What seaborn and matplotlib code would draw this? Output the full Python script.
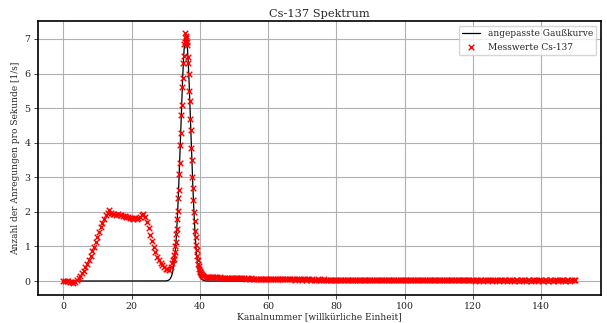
import numpy as np
import pandas as pd
import matplotlib
matplotlib.use("Agg")
import matplotlib.pyplot as plt
import seaborn as sns

# Messwerte: Compton-Kontinuum (Schrittweite 0.5 Kanäle)
hump_start, hump_step = 0.0, 0.5
hump_counts = [
    0.00, 0.01, -0.01, 0.00, -0.03, -0.04, -0.05, -0.03, 0.02, 0.08,
    0.14, 0.22, 0.30, 0.40, 0.50, 0.62, 0.72, 0.86, 0.98, 1.12,
    1.27, 1.42, 1.55, 1.69, 1.80, 1.90, 1.96, 2.05, 1.97, 1.95,
    1.94, 1.92, 1.93, 1.90, 1.91, 1.88, 1.89, 1.86, 1.85, 1.83,
    1.82, 1.80, 1.81, 1.79, 1.82, 1.85, 1.90, 1.93, 1.86, 1.72,
    1.52, 1.34, 1.15, 0.98, 0.83, 0.70, 0.60, 0.52, 0.45, 0.40,
    0.36, 0.34, 0.33, 0.42,
]

# Messwerte: Photopeak (Schrittweite 0.15 Kanäle)
peak_start, peak_step = 32.0, 0.15
peak_counts = [
    0.52, 0.60, 0.65, 0.76, 0.84, 1.00, 1.12, 1.35, 1.50, 1.80,
    2.02, 2.40, 2.62, 3.10, 3.42, 3.93, 4.27, 4.80, 5.10, 5.62,
    5.88, 6.32, 6.50, 6.85, 6.90, 7.16, 7.02, 7.10, 6.92, 6.84,
    6.48, 6.30, 5.98, 5.50, 5.20, 4.70, 4.36, 3.84, 3.50, 3.00,
    2.70, 2.33, 2.00, 1.75, 1.46, 1.27, 1.03, 0.90, 0.72, 0.62,
    0.50, 0.44, 0.36, 0.30, 0.26, 0.22, 0.20, 0.18, 0.16, 0.15,
    0.14,
]

# Messwerte: Ausläufer (Schrittweite 0.5 Kanäle)
tail_start, tail_step = 41.5, 0.5
tail_counts = [
    0.13, 0.13, 0.12, 0.12, 0.11, 0.12, 0.11, 0.11, 0.10, 0.11, 0.10, 0.10, 0.09, 0.10, 0.09, 0.09, 0.09, 0.08, 0.09, 0.08,
    0.08, 0.08, 0.09, 0.08, 0.07, 0.08, 0.07, 0.08, 0.07, 0.07, 0.07, 0.06, 0.07, 0.07, 0.06, 0.07, 0.06, 0.06, 0.06, 0.06,
    0.06, 0.05, 0.06, 0.06, 0.05, 0.06, 0.05, 0.05, 0.06, 0.05, 0.05, 0.05, 0.05, 0.04, 0.05, 0.05, 0.05, 0.04, 0.05, 0.04,
    0.05, 0.05, 0.04, 0.05, 0.04, 0.04, 0.05, 0.04, 0.04, 0.04, 0.05, 0.04, 0.04, 0.04, 0.04, 0.03, 0.04, 0.04, 0.04, 0.04,
    0.04, 0.03, 0.04, 0.04, 0.03, 0.04, 0.03, 0.03, 0.04, 0.03, 0.04, 0.03, 0.03, 0.03, 0.04, 0.03, 0.03, 0.03, 0.03, 0.03,
    0.04, 0.03, 0.03, 0.03, 0.02, 0.03, 0.03, 0.03, 0.03, 0.02, 0.03, 0.03, 0.03, 0.02, 0.03, 0.03, 0.02, 0.03, 0.03, 0.02,
    0.03, 0.03, 0.02, 0.03, 0.02, 0.03, 0.02, 0.03, 0.02, 0.02, 0.03, 0.02, 0.03, 0.02, 0.02, 0.03, 0.02, 0.02, 0.02, 0.03,
    0.02, 0.02, 0.03, 0.02, 0.02, 0.02, 0.02, 0.03, 0.02, 0.02, 0.02, 0.02, 0.02, 0.03, 0.02, 0.02, 0.02, 0.02, 0.01, 0.02,
    0.02, 0.02, 0.02, 0.01, 0.02, 0.02, 0.02, 0.02, 0.01, 0.02, 0.02, 0.02, 0.01, 0.02, 0.02, 0.02, 0.02, 0.01, 0.02, 0.02,
    0.02, 0.01, 0.02, 0.02, 0.01, 0.02, 0.02, 0.02, 0.01, 0.02, 0.02, 0.01, 0.02, 0.02, 0.02, 0.01, 0.02, 0.02, 0.01, 0.02,
    0.02, 0.01, 0.02, 0.02, 0.01, 0.02, 0.02, 0.01, 0.02, 0.02, 0.02, 0.01, 0.02, 0.02, 0.01, 0.02, 0.02, 0.02,
]

# Parameter der angepassten Gaußkurve
fit_amplitude = 7.08
fit_mean = 35.9
fit_sigma = 1.5


def segment(start, step, counts):
    return start + step * np.arange(len(counts)), np.asarray(counts)


xs, ys = zip(*(segment(*s) for s in [
    (hump_start, hump_step, hump_counts),
    (peak_start, peak_step, peak_counts),
    (tail_start, tail_step, tail_counts),
]))
data = pd.DataFrame({"kanal": np.concatenate(xs), "rate": np.concatenate(ys)})

fit_x = np.linspace(0, 150, 1501)
fit_y = fit_amplitude * np.exp(-(fit_x - fit_mean) ** 2 / (2 * fit_sigma ** 2))
fit = pd.DataFrame({"kanal": fit_x, "rate": fit_y})

sns.set_style("whitegrid", {
    "axes.edgecolor": "black",
    "grid.color": "#b0b0b0",
    "xtick.bottom": True,
    "ytick.left": True,
})
plt.rcParams["font.family"] = ["DejaVu Serif"]
plt.rcParams["xtick.direction"] = "out"
plt.rcParams["ytick.direction"] = "out"
plt.rcParams["xtick.major.size"] = 3
plt.rcParams["ytick.major.size"] = 3
plt.rcParams["xtick.major.width"] = 0.6
plt.rcParams["ytick.major.width"] = 0.6

fig = plt.figure(figsize=(6.07, 3.23), dpi=100)
ax = fig.add_axes([0.062, 0.086, 0.928, 0.849])

sns.lineplot(data=fit, x="kanal", y="rate", ax=ax, color="black", lw=0.9,
             label="angepasste Gaußkurve")
sns.scatterplot(data=data, x="kanal", y="rate", ax=ax, color="red", marker="x",
                s=16, linewidth=1.0, label="Messwerte Cs-137", zorder=3)

for sp in ax.spines.values():
    sp.set_linewidth(1.2)
    sp.set_color("black")
ax.grid(True, color="#b0b0b0", lw=0.8)

ax.set_title("Cs-137 Spektrum", fontsize=8.2, pad=3)
ax.set_xlabel("Kanalnummer [willkürliche Einheit]", fontsize=6.5, labelpad=1)
ax.set_ylabel("Anzahl der Anregungen pro Sekunde [1/s]", fontsize=6.5, labelpad=3)
ax.tick_params(labelsize=6.8, pad=2)
ax.set_xticks(range(0, 141, 20))
ax.set_yticks(range(0, 8))
ax.legend(loc="upper right", fontsize=6.5, frameon=True, framealpha=0.8,
          edgecolor="#cccccc", borderpad=0.4, handlelength=2.0)

fig.savefig("out.png", dpi=100)
